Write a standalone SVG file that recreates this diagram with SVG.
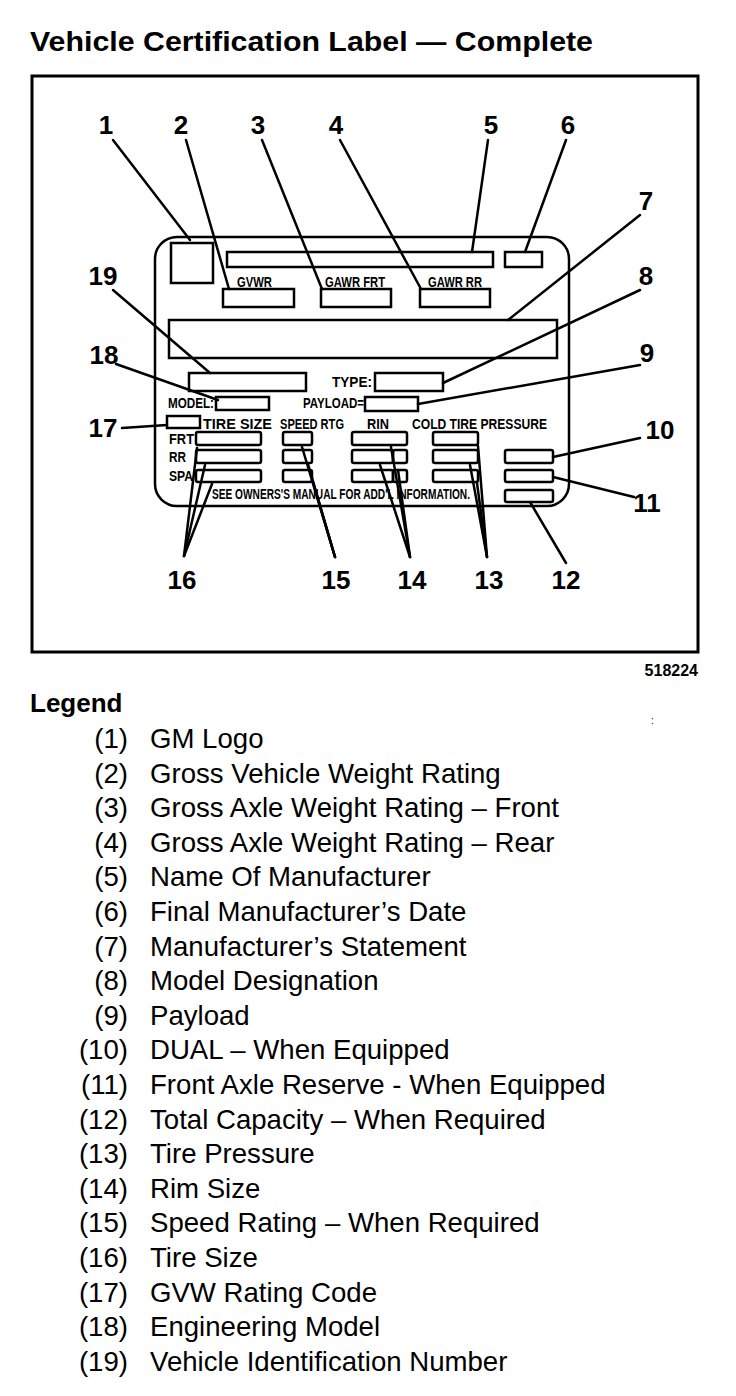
<svg xmlns="http://www.w3.org/2000/svg" width="736" height="1396" viewBox="0 0 736 1396">
<style>
text{font-family:"Liberation Sans",Arial,sans-serif;fill:#000}
.title{font-size:28px;font-weight:bold}
.num{font-size:26px;font-weight:bold;text-anchor:middle}
.lg{font-size:27.6px}
.lgn{font-size:27.6px;text-anchor:end}
.pl{font-size:14px;font-weight:bold}
.bx{fill:none;stroke:#000;stroke-width:2.5}
.ld{fill:none;stroke:#000;stroke-width:2.5;stroke-linecap:round}
</style>
<rect width="736" height="1396" fill="#fff"/>
<g id="title"><text class="title" x="30" y="51" textLength="563" lengthAdjust="spacingAndGlyphs">Vehicle Certification Label — Complete</text></g>
<g id="frame"><rect x="32" y="76" width="666" height="576" fill="none" stroke="#000" stroke-width="3"/>
<text x="698" y="676" font-size="16" font-weight="bold" text-anchor="end">518224</text></g>
<g id="label">
<rect class="bx" x="155" y="237" width="414" height="269" rx="22"/>
<g id="f1-logo"><rect class="bx" x="171" y="243" width="42" height="40"/></g>
<g id="f5-manufacturer"><rect class="bx" x="227" y="252" width="266" height="15"/></g>
<g id="f6-date"><rect class="bx" x="505" y="252" width="37" height="15"/></g>
<g id="f2-gvwr"><text class="pl" x="237" y="287" textLength="35" lengthAdjust="spacingAndGlyphs">GVWR</text><rect class="bx" x="223" y="289" width="71" height="18"/></g>
<g id="f3-gawr-frt"><text class="pl" x="325" y="287" textLength="60" lengthAdjust="spacingAndGlyphs">GAWR FRT</text><rect class="bx" x="321" y="289" width="70" height="18"/></g>
<g id="f4-gawr-rr"><text class="pl" x="428" y="287" textLength="54" lengthAdjust="spacingAndGlyphs">GAWR RR</text><rect class="bx" x="420" y="289" width="70" height="18"/></g>
<g id="f7-statement"><rect class="bx" x="169" y="320" width="388" height="38"/></g>
<g id="f19-vin"><rect class="bx" x="189" y="373" width="117" height="18"/></g>
<g id="f8-type"><text class="pl" x="332" y="387" textLength="40" lengthAdjust="spacingAndGlyphs">TYPE:</text><rect class="bx" x="375" y="373" width="68" height="18"/></g>
<g id="f18-model"><text class="pl" x="168" y="408" textLength="46" lengthAdjust="spacingAndGlyphs">MODEL:</text><rect class="bx" x="216" y="397" width="53" height="13"/></g>
<g id="f9-payload"><text class="pl" x="303" y="408" textLength="61" lengthAdjust="spacingAndGlyphs">PAYLOAD=</text><rect class="bx" x="365" y="397" width="53" height="14"/></g>
<g id="f17-gvw-code"><rect class="bx" x="167" y="416" width="33" height="12"/></g>
<g id="headers">
<text class="pl" x="203" y="429" textLength="69" lengthAdjust="spacingAndGlyphs">TIRE SIZE</text>
<text class="pl" x="280" y="429" textLength="64" lengthAdjust="spacingAndGlyphs">SPEED RTG</text>
<text class="pl" x="367" y="429" textLength="22" lengthAdjust="spacingAndGlyphs">RIN</text>
<text class="pl" x="412" y="429" textLength="135" lengthAdjust="spacingAndGlyphs">COLD TIRE PRESSURE</text>
<text class="pl" x="169" y="444" textLength="25" lengthAdjust="spacingAndGlyphs">FRT</text>
<text class="pl" x="169" y="462" textLength="17" lengthAdjust="spacingAndGlyphs">RR</text>
<text class="pl" x="169" y="481" textLength="24" lengthAdjust="spacingAndGlyphs">SPA</text>
<text class="pl" x="212" y="499" textLength="258" lengthAdjust="spacingAndGlyphs">SEE OWNERS'S MANUAL FOR ADD'L INFORMATION.</text>
</g>
<g id="f16-tire-size"><rect class="bx" x="196" y="432" width="65" height="13" rx="2"/><rect class="bx" x="196" y="450" width="65" height="13" rx="2"/><rect class="bx" x="196" y="470" width="65" height="12" rx="2"/></g>
<g id="f15-speed"><rect class="bx" x="283" y="432" width="29" height="13" rx="2"/><rect class="bx" x="283" y="450" width="29" height="13" rx="2"/><rect class="bx" x="283" y="470" width="29" height="12" rx="2"/></g>
<g id="f14-rim"><rect class="bx" x="352" y="432" width="55" height="13" rx="2"/><rect class="bx" x="352" y="450" width="41" height="13" rx="2"/><rect class="bx" x="393" y="450" width="14" height="13" rx="2"/><rect class="bx" x="352" y="470" width="41" height="12" rx="2"/><rect class="bx" x="393" y="470" width="14" height="12" rx="2"/></g>
<g id="f13-pressure"><rect class="bx" x="433" y="432" width="45" height="13" rx="2"/><rect class="bx" x="433" y="450" width="45" height="13" rx="2"/><rect class="bx" x="433" y="470" width="45" height="12" rx="2"/></g>
<g id="f10-dual"><rect class="bx" x="505" y="450" width="48" height="13" rx="2"/></g>
<g id="f11-reserve"><rect class="bx" x="505" y="470" width="48" height="12" rx="2"/></g>
<g id="f12-capacity"><rect class="bx" x="505" y="490" width="48" height="12" rx="2"/></g>
</g>
<g id="connectors">
<line class="ld" x1="113" y1="140" x2="190" y2="240"/>
<line class="ld" x1="186" y1="140" x2="229" y2="289"/>
<line class="ld" x1="262" y1="140" x2="322" y2="289"/>
<line class="ld" x1="340" y1="140" x2="421" y2="289"/>
<line class="ld" x1="488" y1="140" x2="472" y2="252"/>
<line class="ld" x1="566" y1="140" x2="525" y2="252"/>
<line class="ld" x1="640" y1="215" x2="508" y2="320"/>
<line class="ld" x1="640" y1="290" x2="443" y2="383"/>
<line class="ld" x1="113" y1="290" x2="210" y2="373"/>
<line class="ld" x1="116" y1="364" x2="218" y2="400"/>
<line class="ld" x1="640" y1="365" x2="418" y2="404"/>
<line class="ld" x1="122" y1="428" x2="167" y2="425"/>
<line class="ld" x1="640" y1="438" x2="553" y2="457"/>
<line class="ld" x1="634" y1="497" x2="553" y2="477"/>
<line class="ld" x1="566" y1="563" x2="530" y2="502"/>
<line class="ld" x1="184" y1="556" x2="197" y2="448"/>
<line class="ld" x1="184" y1="556" x2="205" y2="465"/>
<line class="ld" x1="184" y1="556" x2="212" y2="484"/>
<line class="ld" x1="335" y1="557" x2="302" y2="447"/>
<line class="ld" x1="335" y1="557" x2="308" y2="464"/>
<line class="ld" x1="335" y1="557" x2="313" y2="482"/>
<line class="ld" x1="410" y1="557" x2="391" y2="447"/>
<line class="ld" x1="410" y1="557" x2="380" y2="465"/>
<line class="ld" x1="410" y1="557" x2="398" y2="470"/>
<line class="ld" x1="487" y1="557" x2="478" y2="446"/>
<line class="ld" x1="487" y1="557" x2="470" y2="465"/>
<line class="ld" x1="487" y1="557" x2="477" y2="483"/>
</g>
<g id="callouts">
<text class="num" x="106" y="134">1</text>
<text class="num" x="181" y="134">2</text>
<text class="num" x="258" y="134">3</text>
<text class="num" x="336" y="134">4</text>
<text class="num" x="491" y="134">5</text>
<text class="num" x="568" y="134">6</text>
<text class="num" x="646" y="210">7</text>
<text class="num" x="646" y="285">8</text>
<text class="num" x="103" y="285">19</text>
<text class="num" x="104" y="364">18</text>
<text class="num" x="647" y="362">9</text>
<text class="num" x="103" y="437">17</text>
<text class="num" x="660" y="439">10</text>
<text class="num" x="647" y="512">11</text>
<text class="num" x="182" y="589">16</text>
<text class="num" x="336" y="589">15</text>
<text class="num" x="412" y="589">14</text>
<text class="num" x="489" y="589">13</text>
<text class="num" x="566" y="589">12</text>
</g>
<g id="legend">
<text x="30" y="712" font-size="26" font-weight="bold">Legend</text>
<text x="651" y="724" font-size="10" fill="#555">:</text>
<text class="lgn" x="128" y="748">(1)</text><text class="lg" x="150" y="748">GM Logo</text>
<text class="lgn" x="128" y="783">(2)</text><text class="lg" x="150" y="783">Gross Vehicle Weight Rating</text>
<text class="lgn" x="128" y="817">(3)</text><text class="lg" x="150" y="817">Gross Axle Weight Rating – Front</text>
<text class="lgn" x="128" y="852">(4)</text><text class="lg" x="150" y="852">Gross Axle Weight Rating – Rear</text>
<text class="lgn" x="128" y="886">(5)</text><text class="lg" x="150" y="886">Name Of Manufacturer</text>
<text class="lgn" x="128" y="921">(6)</text><text class="lg" x="150" y="921">Final Manufacturer’s Date</text>
<text class="lgn" x="128" y="956">(7)</text><text class="lg" x="150" y="956">Manufacturer’s Statement</text>
<text class="lgn" x="128" y="990">(8)</text><text class="lg" x="150" y="990">Model Designation</text>
<text class="lgn" x="128" y="1025">(9)</text><text class="lg" x="150" y="1025">Payload</text>
<text class="lgn" x="128" y="1059">(10)</text><text class="lg" x="150" y="1059">DUAL – When Equipped</text>
<text class="lgn" x="128" y="1094">(11)</text><text class="lg" x="150" y="1094">Front Axle Reserve - When Equipped</text>
<text class="lgn" x="128" y="1129">(12)</text><text class="lg" x="150" y="1129">Total Capacity – When Required</text>
<text class="lgn" x="128" y="1163">(13)</text><text class="lg" x="150" y="1163">Tire Pressure</text>
<text class="lgn" x="128" y="1198">(14)</text><text class="lg" x="150" y="1198">Rim Size</text>
<text class="lgn" x="128" y="1232">(15)</text><text class="lg" x="150" y="1232">Speed Rating – When Required</text>
<text class="lgn" x="128" y="1267">(16)</text><text class="lg" x="150" y="1267">Tire Size</text>
<text class="lgn" x="128" y="1302">(17)</text><text class="lg" x="150" y="1302">GVW Rating Code</text>
<text class="lgn" x="128" y="1336">(18)</text><text class="lg" x="150" y="1336">Engineering Model</text>
<text class="lgn" x="128" y="1371">(19)</text><text class="lg" x="150" y="1371">Vehicle Identification Number</text>
</g>
</svg>
